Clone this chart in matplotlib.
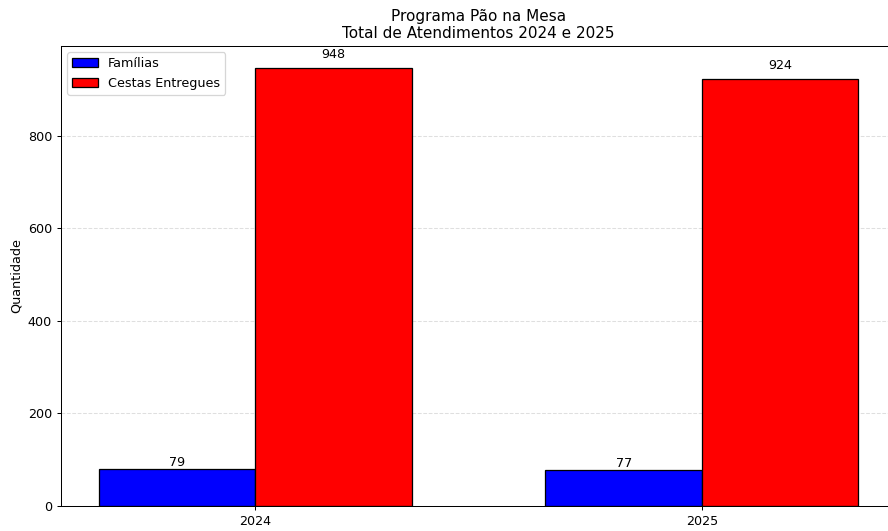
import matplotlib
matplotlib.use("Agg")
import matplotlib.pyplot as plt
import numpy as np

anos = ["2024", "2025"]
familias = [79, 77]
cestas = [948, 924]

DPI = 91.7
W, H = 888, 531
fig = plt.figure(figsize=(W / DPI + 1e-4, H / DPI + 1e-4), dpi=DPI)
ax = fig.add_axes([61 / W, (H - 505.7) / H, (896 - 61) / W, (505.7 - 45.7) / H])

x = np.arange(len(anos))
w = 0.35
b1 = ax.bar(x - w / 2, familias, w, color="blue", edgecolor="black", label="Famílias")
b2 = ax.bar(x + w / 2, cestas, w, color="red", edgecolor="black", label="Cestas Entregues")
ax.bar_label(b1, padding=0)
ax.bar_label(b2, padding=5)

ax.set_xticks(x)
ax.set_xticklabels(anos)
ax.set_ylabel("Quantidade")
ax.set_title("Programa Pão na Mesa\nTotal de Atendimentos 2024 e 2025")
ax.grid(axis="y", linestyle="--", alpha=0.4)
ax.set_axisbelow(True)
ax.legend(loc="upper left")

fig.savefig("out.png", dpi=DPI)
